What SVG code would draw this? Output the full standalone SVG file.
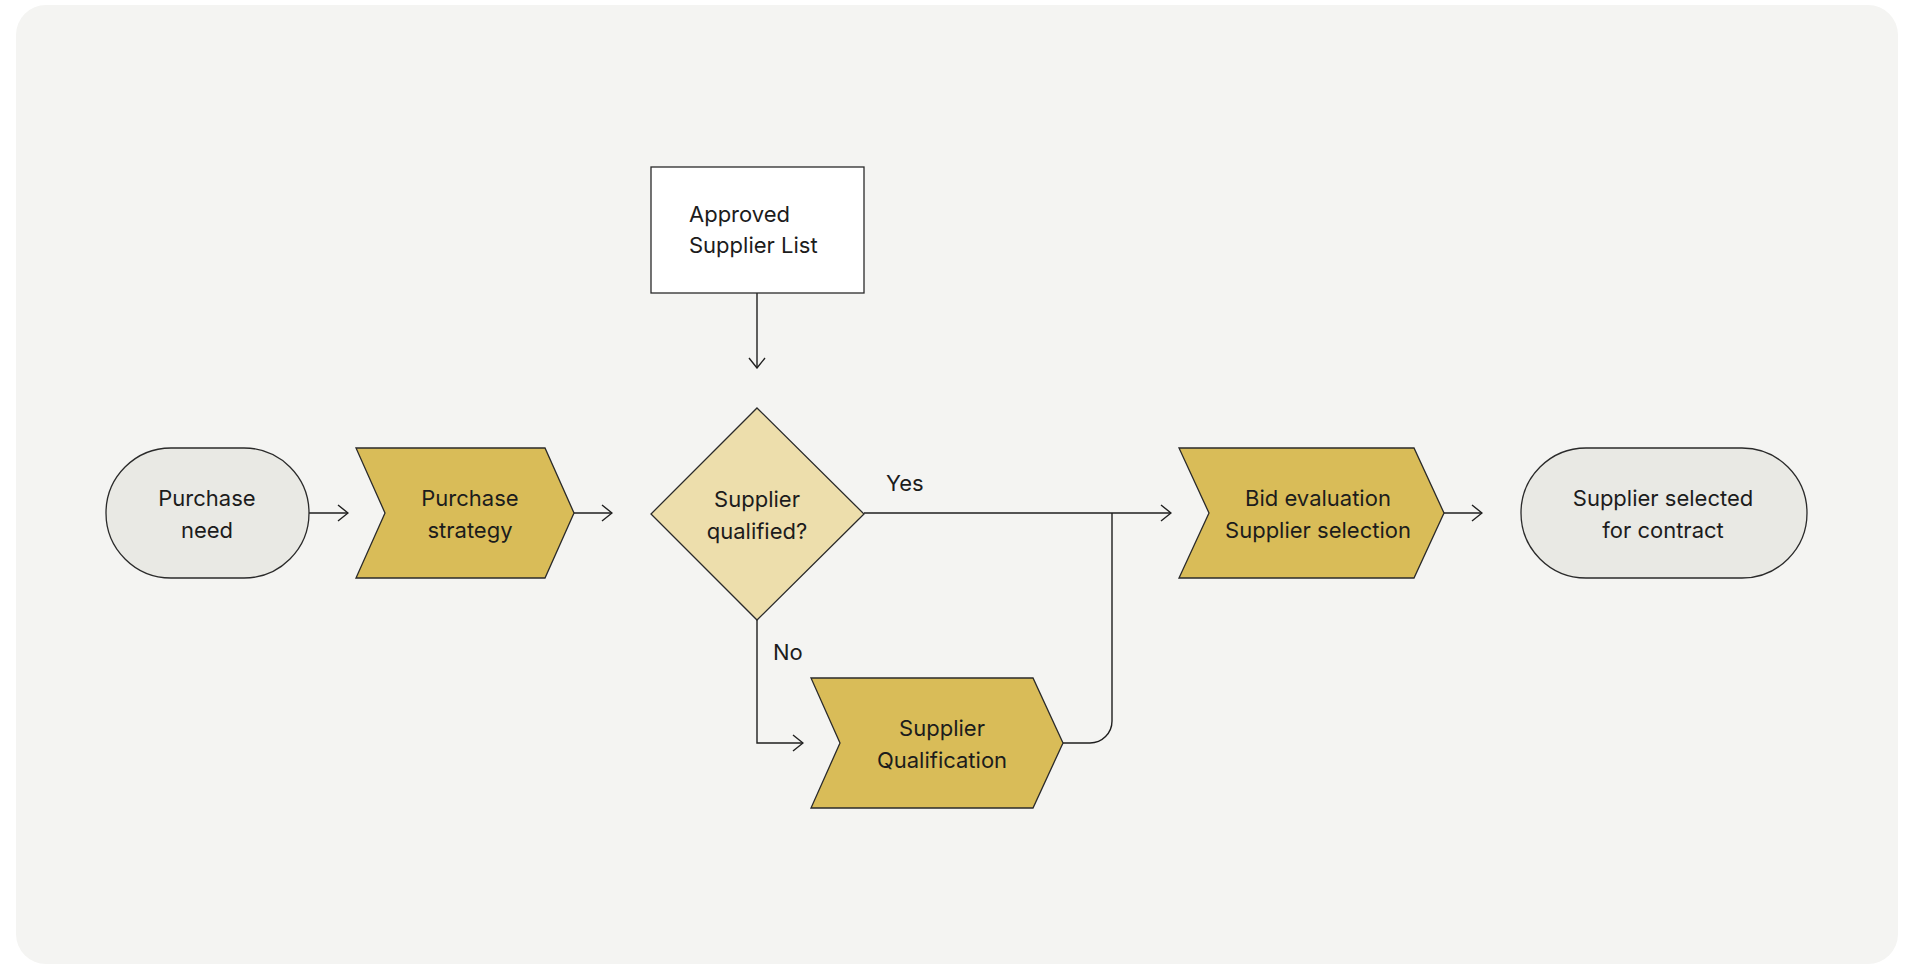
<svg xmlns="http://www.w3.org/2000/svg" width="1909" height="965" viewBox="0 0 1909 965">
<style>
.bg{fill:#F4F4F2}
.term{fill:#E9E9E4;stroke:#2a2a2a;stroke-width:1.3}
.proc{fill:#D9BC58;stroke:#2a2a2a;stroke-width:1.3}
.dec{fill:#EDDEAC;stroke:#2a2a2a;stroke-width:1.3}
.doc{fill:#FFFFFF;stroke:#2a2a2a;stroke-width:1.3}
.t{font-family:Inter,"Noto Sans","Liberation Sans",sans-serif;font-size:22px;fill:#1c1c1c}
.c{text-anchor:middle}
.edge{fill:none;stroke:#1f1f1f;stroke-width:1.4}
</style>
<defs>
<marker id="arr" viewBox="0 0 12 18" refX="11" refY="9" markerWidth="12" markerHeight="18" orient="auto" markerUnits="userSpaceOnUse">
<path d="M1,1 L11,9 L1,17" fill="none" stroke="#1f1f1f" stroke-width="1.4"/>
</marker>
</defs>
<rect class="bg" x="16" y="5" width="1882" height="959" rx="30" ry="30"/>
<g id="connectors">
<line class="edge" x1="309" y1="513" x2="348" y2="513" marker-end="url(#arr)"/>
<line class="edge" x1="574" y1="513" x2="612" y2="513" marker-end="url(#arr)"/>
<line class="edge" x1="757" y1="293" x2="757" y2="368" marker-end="url(#arr)"/>
<line class="edge" x1="864" y1="513" x2="1171" y2="513" marker-end="url(#arr)"/>
<path class="edge" d="M757,620 L757,743 L803,743" marker-end="url(#arr)"/>
<path class="edge" d="M1063,743 L1090,743 A22,22 0 0 0 1112,721 L1112,513"/>
<line class="edge" x1="1444" y1="513" x2="1482" y2="513" marker-end="url(#arr)"/>
<text class="t" x="886" y="491">Yes</text>
<text class="t" x="773" y="660">No</text>
</g>
<g id="purchase-need">
<rect class="term" x="106" y="448" width="203" height="130" rx="65" ry="65"/>
<text class="t c" x="207" y="506">Purchase</text>
<text class="t c" x="207" y="538">need</text>
</g>
<g id="purchase-strategy">
<polygon class="proc" points="356,448 545,448 574,513 545,578 356,578 385,513"/>
<text class="t c" x="470" y="506">Purchase</text>
<text class="t c" x="470" y="538">strategy</text>
</g>
<g id="approved-supplier-list">
<rect class="doc" x="651" y="167" width="213" height="126"/>
<text class="t" x="689" y="222">Approved</text>
<text class="t" x="689" y="253">Supplier List</text>
</g>
<g id="supplier-qualified">
<polygon class="dec" points="757,408 864,514 757,620 651,514"/>
<text class="t c" x="757" y="507">Supplier</text>
<text class="t c" x="757" y="539">qualified?</text>
</g>
<g id="supplier-qualification">
<polygon class="proc" points="811,678 1033,678 1063,743 1033,808 811,808 840,743"/>
<text class="t c" x="942" y="736">Supplier</text>
<text class="t c" x="942" y="768">Qualification</text>
</g>
<g id="bid-evaluation">
<polygon class="proc" points="1179,448 1414,448 1444,513 1414,578 1179,578 1209,513"/>
<text class="t c" x="1318" y="506">Bid evaluation</text>
<text class="t c" x="1318" y="538">Supplier selection</text>
</g>
<g id="supplier-selected">
<rect class="term" x="1521" y="448" width="286" height="130" rx="65" ry="65"/>
<text class="t c" x="1663" y="506">Supplier selected</text>
<text class="t c" x="1663" y="538">for contract</text>
</g>
</svg>
